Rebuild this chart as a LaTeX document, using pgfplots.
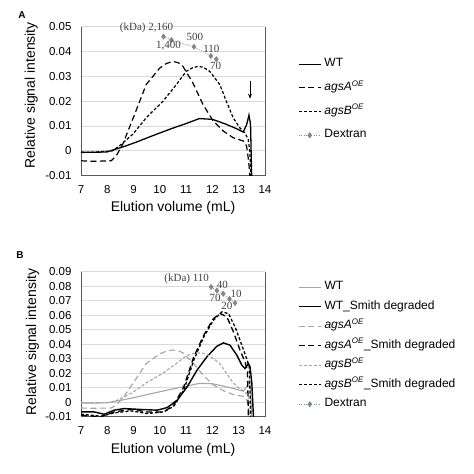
\documentclass[border=0pt]{standalone}
\usepackage{pgfplots}
\pgfplotsset{compat=1.18}
\usepackage{pgfplotstable}
\usepackage{fontspec}
\setmainfont{Liberation Sans}
\newfontfamily\seriffont{Liberation Serif}
\usetikzlibrary{arrows.meta}
\definecolor{gridc}{HTML}{D9D9D9}
\definecolor{framec}{HTML}{595959}
\definecolor{lgray}{HTML}{A6A6A6}
\definecolor{dexc}{HTML}{7B8B86}

% Panel A / gray curves of panel B
\pgfplotstableread{
x y
7.0 -0.0005
7.5 -0.0006
8.0 -0.0004
8.2 0.0003
8.6 0.0016
9.1 0.0035
9.7 0.0060
10.4 0.0088
11.0 0.0110
11.5 0.0130
12.0 0.0127
12.5 0.0108
12.9 0.0090
13.17 0.0076
13.3 0.0105
13.39 0.0144
13.45 0.0107
13.49 -0.0087
13.52 -0.0200
}\wt
\pgfplotstableread{
x y
7.0 -0.0040
7.5 -0.0042
8.15 -0.0040
8.34 -0.0020
8.59 0.0027
9.04 0.0147
9.48 0.0267
9.99 0.0333
10.25 0.0352
10.5 0.0360
10.7 0.0355
10.88 0.0340
11.26 0.0273
11.64 0.0187
12.03 0.0120
12.41 0.0080
12.79 0.0053
13.17 0.0040
13.3 0.0020
13.36 -0.0027
13.42 -0.0087
13.45 -0.0200
}\agsA
\pgfplotstableread{
x y
7.0 -0.0007
7.5 -0.0005
8.2 0.0000
8.46 0.0020
8.97 0.0067
9.48 0.0133
10.12 0.0200
10.63 0.0267
11.0 0.0320
11.25 0.0335
11.45 0.0340
11.65 0.0337
11.9 0.0320
12.28 0.0267
12.53 0.0200
12.79 0.0133
13.04 0.0093
13.23 0.0073
13.36 0.0047
13.42 0.0000
13.46 -0.0087
13.48 -0.0200
}\agsB
% Panel B Smith degraded
\pgfplotstableread{
x y
7.0 -0.0067
7.5 -0.0067
7.88 -0.0083
8.26 -0.0055
8.64 -0.0044
9.27 -0.0050
9.9 -0.0055
10.28 -0.0037
10.66 0.0014
11.04 0.0106
11.41 0.0220
11.79 0.0313
12.17 0.0386
12.42 0.0409
12.67 0.0393
12.93 0.0324
13.12 0.0255
13.24 0.0232
13.37 0.0267
13.43 0.0244
13.5 0.0129
13.56 -0.0100
13.58 -0.0200
}\wtS
\pgfplotstableread{
x y
7.0 -0.0090
7.76 -0.0100
8.26 -0.0067
8.9 -0.0050
9.52 -0.0067
10.15 -0.0067
10.53 -0.0020
10.91 0.0106
11.29 0.0313
11.67 0.0462
12.04 0.0577
12.3 0.0611
12.55 0.0589
12.8 0.0485
13.05 0.0359
13.24 0.0278
13.33 0.0220
13.37 -0.0100
13.39 -0.0200
}\agsAS
\pgfplotstableread{
x y
7.0 -0.0083
7.76 -0.0097
8.26 -0.0074
8.9 -0.0060
9.52 -0.0078
10.15 -0.0067
10.53 -0.0028
10.91 0.0083
11.29 0.0290
11.67 0.0450
12.04 0.0566
12.36 0.0623
12.61 0.0611
12.86 0.0520
13.12 0.0393
13.3 0.0301
13.4 0.0244
13.46 -0.0100
13.48 -0.0200
}\agsBS

\pgfplotsset{
  chrom/.style={
    scale only axis, width=184pt,
    xmin=7, xmax=14,
    xtick={7,8,9,10,11,12,13,14},
    xticklabels={7,8,9,10,11,12,13,14},
    scaled y ticks=false,
    axis line style={draw=none},
    major tick length=0pt,
    tick style={draw=none},
    ymajorgrids, grid style={gridc, line width=0.8pt},
    tick label style={font=\fontsize{11.5}{13}\selectfont},
    xticklabel style={yshift=-6pt},
    yticklabel style={xshift=-6pt},
    label style={font=\fontsize{14}{16}\selectfont},
    clip mode=individual,
    legend cell align=left,
    legend image code/.code={\draw[mark repeat=2,mark phase=2,##1] plot coordinates {(0pt,0pt) (11pt,0pt) (22pt,0pt)};},
    legend style={draw=none, fill=none, inner sep=0pt, column sep=3pt,
      font=\fontsize{12}{14}\selectfont,
      nodes={inner sep=0pt, text height=8.5pt, text depth=3.5pt}},
  },
  ldash/.style={dash pattern=on 6pt off 3.5pt},
  sdash/.style={dash pattern=on 3pt off 2pt},
  dex/.style={dexc, line width=0.6pt, dash pattern=on 1pt off 1.5pt, mark=diamond*, mark size=2.6pt, mark options={solid, fill=dexc, draw=dexc}},
}

\begin{document}
\begin{tikzpicture}
\useasboundingbox (0,0) rectangle (474pt,474pt);
\node[font=\bfseries\fontsize{10}{12}\selectfont] at (22pt,459pt) {A};
\node[font=\bfseries\fontsize{10}{12}\selectfont] at (20pt,219pt) {B};

% Panel A
\begin{axis}[chrom, at={(81pt,298.3pt)}, anchor=south west, height=149pt,
  ymin=-0.01, ymax=0.05,
  ytick={-0.01,0,0.01,0.02,0.03,0.04,0.05},
  yticklabels={-0.01,0,0.01,0.02,0.03,0.04,0.05},
  xlabel={Elution volume (mL)}, ylabel={Relative signal intensity},
  xlabel style={at={(axis description cs:0.5,-0.217)}, anchor=center},
  ylabel style={at={(axis description cs:-0.271,0.54)}, anchor=center},
  legend style={at={(1.179,0.79)}, anchor=north west, row sep=11.7pt},
]
\draw[framec, line width=0.8pt] (rel axis cs:0,1) -- (rel axis cs:0,0) -- (rel axis cs:1,0) -- (rel axis cs:1,1);
\addplot[black, line width=1.3pt] table {\wt};
\addlegendentry{WT}
\addplot[black, line width=1.2pt, ldash] table {\agsA};
\addlegendentry{\textit{agsA}\textsuperscript{\textit{OE}}}
\addplot[black, line width=1.2pt, sdash] table {\agsB};
\addlegendentry{\textit{agsB}\textsuperscript{\textit{OE}}}
\addplot[dex] coordinates {(10.14,0.0460) (10.44,0.0446) (11.30,0.0419) (11.94,0.0382) (12.15,0.0369)};
\addlegendentry{Dextran}
\draw[black, line width=1pt, -{Stealth[length=5pt,width=4pt]}] (axis cs:13.43,0.0280) -- (axis cs:13.43,0.0210);
\begin{scope}[font=\seriffont\fontsize{11}{12}\selectfont, text=black!75]
\node[anchor=east] at (axis cs:10.64,0.0494) {(kDa) 2,160};
\node at (axis cs:10.33,0.0424) {1,400};
\node at (axis cs:11.33,0.0458) {500};
\node at (axis cs:11.96,0.0410) {110};
\node at (axis cs:12.12,0.0344) {70};
\end{scope}
\end{axis}

% Panel B
\begin{axis}[chrom, at={(81pt,57.3pt)}, anchor=south west, height=145pt,
  ymin=-0.01, ymax=0.09,
  ytick={-0.01,0,0.01,0.02,0.03,0.04,0.05,0.06,0.07,0.08,0.09},
  yticklabels={-0.01,0,0.01,0.02,0.03,0.04,0.05,0.06,0.07,0.08,0.09},
  xlabel={Elution volume (mL)}, ylabel={Relative signal intensity},
  xlabel style={at={(axis description cs:0.5,-0.23)}, anchor=center},
  ylabel style={at={(axis description cs:-0.263,0.515)}, anchor=center},
  legend style={at={(1.179,0.936)}, anchor=north west, row sep=7.5pt},
]
\draw[framec, line width=0.8pt] (rel axis cs:0,1) -- (rel axis cs:0,0) -- (rel axis cs:1,0) -- (rel axis cs:1,1);
\addplot[lgray, line width=1.1pt] table {\wt};
\addlegendentry{WT}
\addplot[black, line width=1.4pt] table {\wtS};
\addlegendentry{WT\_Smith degraded}
\addplot[lgray, line width=1.1pt, ldash] table {\agsA};
\addlegendentry{\textit{agsA}\textsuperscript{\textit{OE}}}
\addplot[black, line width=1.3pt, ldash] table {\agsAS};
\addlegendentry{\textit{agsA}\textsuperscript{\textit{OE}}\_Smith degraded}
\addplot[lgray, line width=1.1pt, sdash] table {\agsB};
\addlegendentry{\textit{agsB}\textsuperscript{\textit{OE}}}
\addplot[black, line width=1.3pt, sdash] table {\agsBS};
\addlegendentry{\textit{agsB}\textsuperscript{\textit{OE}}\_Smith degraded}
\addplot[dex] coordinates {(11.95,0.0795) (12.17,0.0770) (12.41,0.0748) (12.65,0.0712) (12.86,0.0684)};
\addlegendentry{Dextran}
\begin{scope}[font=\seriffont\fontsize{11}{12}\selectfont, text=black!75]
\node[anchor=east] at (axis cs:12.0,0.0848) {(kDa) 110};
\node at (axis cs:12.38,0.0810) {40};
\node at (axis cs:12.10,0.0718) {70};
\node at (axis cs:12.90,0.0748) {10};
\node at (axis cs:12.55,0.0665) {20};
\end{scope}
\end{axis}
\end{tikzpicture}
\end{document}
